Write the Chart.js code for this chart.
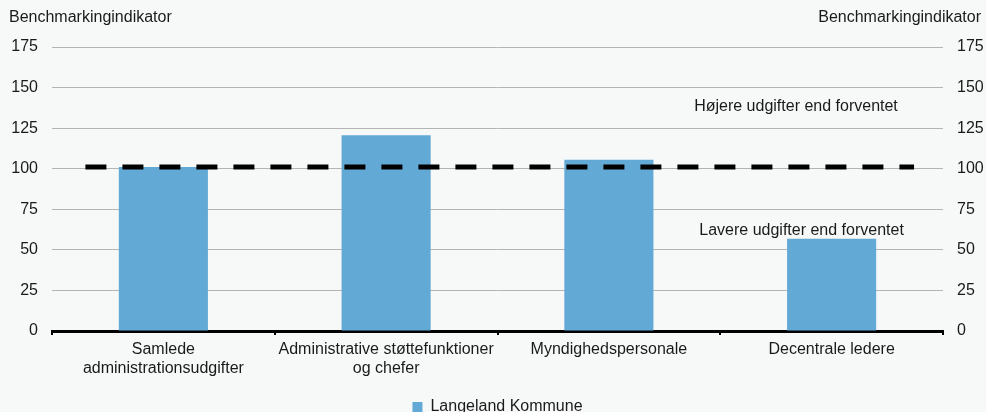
<!DOCTYPE html>
<html>
<head>
<meta charset="utf-8">
<script src="https://cdn.jsdelivr.net/npm/chart.js@4"></script>
<style>
  html, body { margin: 0; padding: 0; background: #f7f9f9; }
  #wrap { width: 986px; height: 412px; position: relative; }
</style>
</head>
<body>
<div id="wrap"><canvas id="ch"></canvas></div>
<script>
// data
const categories = [['Samlede', 'administrationsudgifter'], ['Administrative støttefunktioner', 'og chefer'], 'Myndighedspersonale', 'Decentrale ledere'];
const seriesName = 'Langeland Kommune';
const values = [101, 120.6, 105.6, 56.9];
const refX = [-0.35, 3.37];
const refY = [101, 101];
const yTicks = [0, 25, 50, 75, 100, 125, 150, 175];
const axisTitle = 'Benchmarkingindikator';
const notes = [
  { text: 'Højere udgifter end forventet', x: 2.84, y: 138 },
  { text: 'Lavere udgifter end forventet', x: 2.865, y: 62 }
];

const font = 'Liberation Sans, Arial, sans-serif';
const fs = 16;
const textColor = '#1a1a1a';
const barColor = '#62a9d5';

// titles on top of both y axes + notes inside plot
const extras = {
  id: 'extras',
  afterDraw(c) {
    const ctx = c.ctx, xs = c.scales.xl, ys = c.scales.y;
    ctx.save();
    ctx.font = fs + 'px ' + font;
    ctx.fillStyle = textColor;
    ctx.textBaseline = 'middle';
    ctx.textAlign = 'left';
    ctx.fillText(axisTitle, 9, 18);
    ctx.textAlign = 'right';
    ctx.fillText(axisTitle, 981, 18);
    ctx.textAlign = 'center';
    notes.forEach(n => ctx.fillText(n.text, xs.getPixelForValue(n.x), ys.getPixelForValue(n.y)));
    ctx.restore();
  }
};

new Chart(document.getElementById('ch'), {
  type: 'bar',
  data: {
    labels: categories,
    datasets: [
      { type: 'bar', label: seriesName, data: values, backgroundColor: barColor, barPercentage: 0.4, categoryPercentage: 1, grouped: false, xAxisID: 'x', yAxisID: 'y', order: 2 },
      { type: 'line', label: 'ref', data: refX.map((x, i) => ({ x, y: refY[i] })), xAxisID: 'xl', yAxisID: 'y',
        borderColor: '#000', borderWidth: 5, borderDash: [21, 16], pointRadius: 0, fill: false, order: 1 }
    ]
  },
  options: {
    responsive: true, maintainAspectRatio: false, animation: false,
    layout: { padding: { top: 47, left: 11, right: 2, bottom: -13 } },
    plugins: {
      legend: {
        position: 'bottom',
        labels: { filter: it => it.text !== 'ref', boxWidth: 10, boxHeight: 10, padding: 2, color: textColor, font: { family: font, size: fs } }
      },
      tooltip: { enabled: false }
    },
    scales: {
      x: {
        type: 'category',
        afterFit: s => { s.height = 66; s.paddingLeft = 0; s.paddingRight = 0; },
        grid: { display: true, drawOnChartArea: false, drawTicks: true, tickLength: 4, color: '#000', lineWidth: 2, offset: true },
        border: { color: '#000', width: 3 },
        ticks: { color: textColor, font: { family: font, size: fs }, padding: 5, maxRotation: 0, autoSkip: false }
      },
      xl: { type: 'linear', min: -0.5, max: 3.5, offset: false, grid: { offset: false }, display: false },
      y: {
        position: 'left', min: 0, max: 175,
        afterBuildTicks: s => { s.ticks = yTicks.map(v => ({ value: v })); },
        afterFit: s => { s.width = 41; },
        grid: { color: '#b4b4b4', lineWidth: 1, drawTicks: false },
        border: { display: false },
        ticks: { color: textColor, font: { family: font, size: fs }, padding: 14 }
      },
      y2: {
        position: 'right', min: 0, max: 175,
        afterBuildTicks: s => { s.ticks = yTicks.map(v => ({ value: v })); },
        afterFit: s => { s.width = 41; },
        grid: { display: false, drawTicks: false },
        border: { display: false },
        ticks: { color: textColor, font: { family: font, size: fs }, padding: 14 }
      }
    }
  },
  plugins: [extras]
});
</script>
</body>
</html>
